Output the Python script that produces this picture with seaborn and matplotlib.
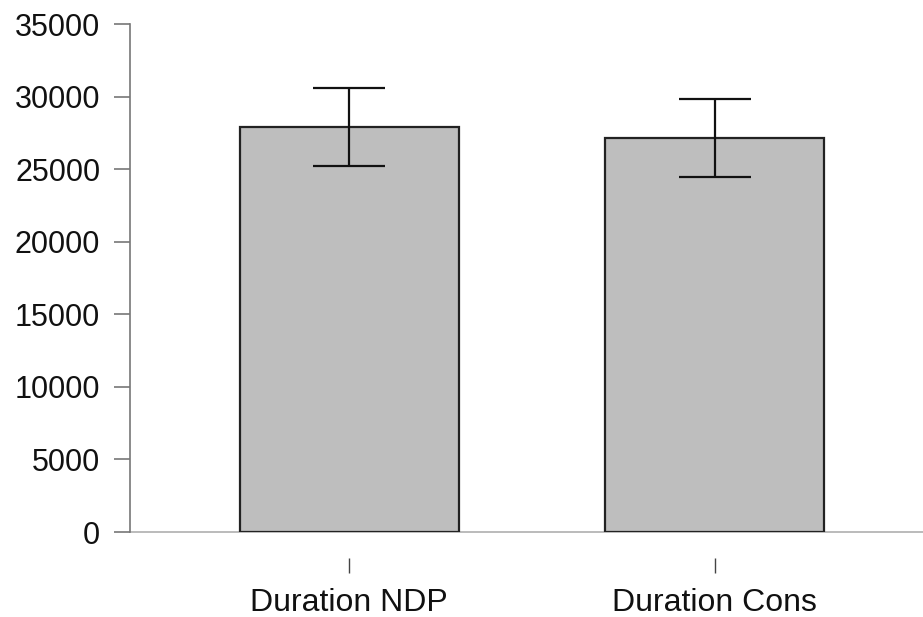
import matplotlib
matplotlib.use("Agg")
import matplotlib.pyplot as plt
import seaborn as sns
import pandas as pd

categories = ["Duration NDP", "Duration Cons"]
means = [27890, 27150]
errors = [2700, 2690]
yticks = [0, 5000, 10000, 15000, 20000, 25000, 30000, 35000]

sns.set_style("white")
plt.rcParams['font.family'] = ['Liberation Sans', 'DejaVu Sans']

df = pd.DataFrame({"cat": categories, "val": means})

fig = plt.figure(figsize=(9.23, 6.17), dpi=100)
ax = fig.add_axes([130/923, 85/617, 1 - 130/923, (532-24)/617])

sns.barplot(data=df, x="cat", y="val", ax=ax, color="#bebebe", saturation=1,
            width=0.6, edgecolor="#222222", linewidth=1.6, errorbar=None)
ax.errorbar(x=range(len(categories)), y=means, yerr=errors, fmt="none",
            ecolor="#111111", elinewidth=1.6, capsize=26, capthick=1.6)

ax.set_xlim(-0.6, 1.57)
ax.set_ylim(0, 35000)
ax.set_yticks(yticks)
ax.set_yticklabels([str(v) for v in yticks])
ax.set_xlabel("")
ax.set_ylabel("")

for s in ["top", "right"]:
    ax.spines[s].set_visible(False)
ax.spines["left"].set_color("#777777")
ax.spines["left"].set_linewidth(1.2)
ax.spines["bottom"].set_position(("outward", 18.5))
ax.spines["bottom"].set_visible(False)
ax.axhline(0, color="#bbbbbb", linewidth=1.4, zorder=0.5, clip_on=False)

ax.tick_params(axis="y", direction="out", length=11.5, width=1.2, color="#777777",
               labelsize=22, pad=10, labelcolor="#111111", left=True)
ax.tick_params(axis="x", direction="out", length=11, width=1.0, color="#444444",
               labelsize=23, pad=11, labelcolor="#111111", bottom=True)

fig.savefig("out.png", dpi=100)
